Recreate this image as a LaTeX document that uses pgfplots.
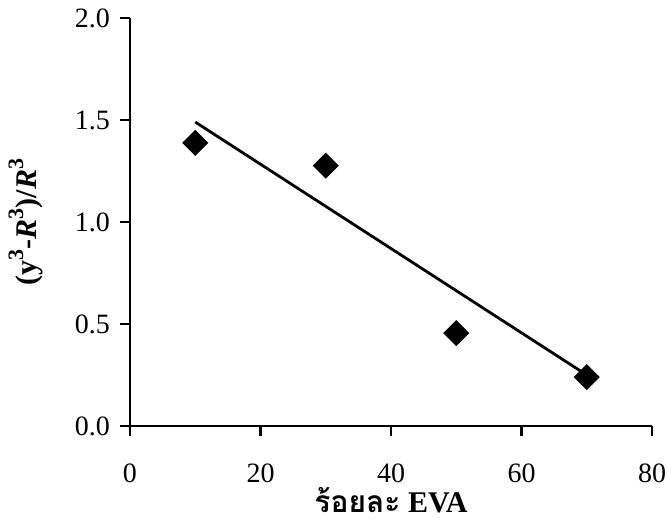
\documentclass[border=0pt]{standalone}
\usepackage{fontspec}
\setmainfont{Liberation Serif}
\newfontfamily\thaifont[Script=Thai]{Loma}
\usepackage{pgfplots}
\pgfplotsset{compat=1.18}
\newcommand{\supth}[1]{\raisebox{0.95ex}{\fontsize{11}{12}\selectfont #1}}
\begin{document}
\begin{tikzpicture}
\begin{axis}[
  name=ax,
  scale only axis,
  width=261pt, height=204pt,
  xmin=0, xmax=80, ymin=0, ymax=2.0,
  axis x line=bottom, axis y line=left,
  line width=1.4pt,
  axis line style={-, line width=1.4pt},
  every outer x axis line/.append style={line width=1.4pt},
  every outer y axis line/.append style={line width=1.4pt},
  tick align=outside,
  major tick length=5pt,
  every tick/.append style={line width=1.4pt, black},
  every major tick/.append style={line width=1.4pt, black},
  every x tick/.append style={line width=1.4pt, black},
  every y tick/.append style={line width=1.4pt, black},
  xtick={0,20,40,60,80},
  ytick={0,0.5,1.0,1.5,2.0},
  /pgf/number format/assume math mode=true,
  ticklabel style={font=\fontsize{14}{16}\selectfont},
  xticklabel style={yshift=-10pt},
  yticklabel style={xshift=-1pt, /pgf/number format/.cd, fixed, fixed zerofill, precision=1},
  xlabel={\bfseries\fontsize{15}{18}\selectfont{\thaifont ร้อยละ} EVA},
  ylabel={\bfseries\fontsize{15}{18}\selectfont (y\supth{3}-\textit{R}\supth{3})/\textit{R}\supth{3}},
  xlabel style={at={(axis description cs:0.5,-0.182)}, anchor=center},
  ylabel style={at={(axis description cs:-0.2,0.5)}, anchor=center, rotate=0},
  clip=false,
]
\addplot[black, line width=1.4pt] coordinates {(10,1.49) (70,0.25)};
\addplot[only marks, mark=square*, mark size=4.4pt, mark options={rotate=45, fill=black, draw=black, line width=0.4pt}] coordinates {
(10,1.388) (30,1.276) (50,0.455) (70,0.24)};
\end{axis}
\pgfresetboundingbox
\path ([shift={(-65pt,-49.5pt)}]ax.south west) rectangle ([shift={(8pt,9pt)}]ax.north east);
\end{tikzpicture}
\end{document}
